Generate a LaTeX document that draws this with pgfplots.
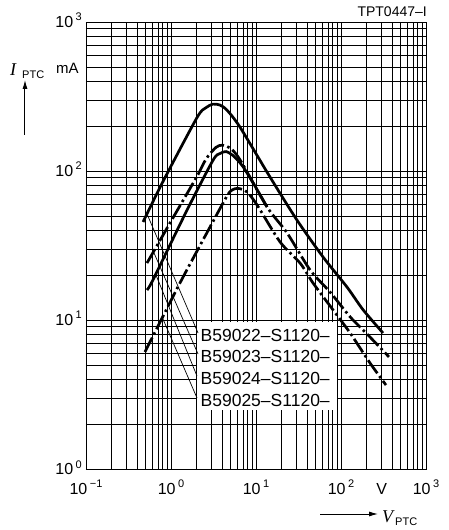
\documentclass[border=0pt]{standalone}
\usepackage{fontspec}
\setmainfont{Liberation Sans}
\newfontfamily\seriffont{Liberation Serif}
\usepackage{pgfplots}
\pgfplotsset{compat=1.18}
\usetikzlibrary{arrows.meta}
\newcommand{\tl}[1]{{\fontsize{16}{16}\selectfont 10\hspace{2.5pt}\raisebox{6.5pt}{\fontsize{11}{11}\selectfont #1}}}
\begin{document}
\begin{tikzpicture}
\useasboundingbox (-86pt,-61pt) rectangle (363pt,469pt);
\begin{axis}[
  at={(0pt,0pt)}, anchor=south west,
  scale only axis, width=340pt, height=447pt,
  xmode=log, ymode=log,
  xmin=0.1, xmax=1000, ymin=1, ymax=1000,
  clip=false,
  xtick={0.1,1,10,100,1000},
  xticklabels={\tl{−1},\tl{0},\tl{1},\tl{2},\tl{3}},
  ytick={1,10,100,1000},
  yticklabels={\tl{0},\tl{1},\tl{2},\tl{3}},
  minor xtick={0.2,0.3,0.4,0.5,0.6,0.7,0.8,0.9,2,3,4,5,6,7,8,9,20,30,40,50,60,70,80,90,200,300,400,500,600,700,800,900},
  minor ytick={2,3,4,5,6,7,8,9,20,30,40,50,60,70,80,90,200,300,400,500,600,700,800,900},
  grid=both,
  major grid style={black, line width=0.75pt},
  minor grid style={black, line width=0.65pt},
  axis line style={black, line width=0.8pt},
  tick style={draw=none},
  xticklabel style={anchor=base, inner sep=0pt, yshift=-25pt},
  yticklabel style={anchor=base east, inner sep=0pt, xshift=-4pt, yshift=-5.5pt},
]
% white box behind labels
\fill[white] (axis cs:2.02,2.49) rectangle (axis cs:89.7,9.70);

% curve 1 (solid)
\addplot[black, line width=2.7pt, smooth, tension=0.45] coordinates {
(0.469,45.5) (0.805,85) (2.02,228) (2.55,265) (3.12,281) (3.77,277) (4.56,256) (6.48,197) (14.6,91.2) (30.3,46.9) (61.4,26.5) (118,16.6) (182,11.7) (312,8.18)};

% curve 2 (dash-dot)
\addplot[black, line width=2.7pt, smooth, tension=0.45, dash pattern=on 16pt off 3.5pt on 2.5pt off 3.5pt] coordinates {
(0.522,24.1) (1.0,46) (2.02,92) (2.6,121) (3.38,144) (3.98,149) (4.94,143) (6.48,119) (13.5,57.3) (23.2,38.4) (43.2,21.7) (74.3,15.4) (128,10.5) (208,7.93) (367,5.65)};

% curve 3 (solid)
\addplot[black, line width=2.7pt, smooth, tension=0.45] coordinates {
(0.522,15.9) (0.614,18.6) (1.54,54.5) (3.12,118) (3.77,131) (4.44,135) (5.36,127) (7.03,107) (10.3,75) (13.5,57.3)};

% curve 4 (dash-dot)
\addplot[black, line width=2.7pt, smooth, tension=0.45, dash pattern=on 16pt off 3.5pt on 2.5pt off 3.5pt] coordinates {
(0.494,6.10) (1.28,17.8) (2.88,42.1) (4.56,68) (5.22,74.5) (6.14,76.5) (7.84,72.3) (10.3,59.1) (19.2,33.4) (33.0,24.1) (46.9,17.7) (80.5,11.7) (128,8.18) (219,5.15) (338,3.66)};

% leader lines
\draw[black, line width=0.7pt] (axis cs:0.522,51.5) -- (axis cs:2.08,8.18);
\draw[black, line width=0.7pt] (axis cs:0.631,28.2) -- (axis cs:2.08,5.91);
\draw[black, line width=0.7pt] (axis cs:0.667,20.0) -- (axis cs:2.02,4.21);
\draw[black, line width=0.7pt] (axis cs:0.784,10.5) -- (axis cs:2.02,3.00);

% labels
\node[anchor=west, inner sep=0pt, font=\fontsize{17.5}{17.5}\selectfont] at (axis cs:2.22,7.93) {B59022–S1120–};
\node[anchor=west, inner sep=0pt, font=\fontsize{17.5}{17.5}\selectfont] at (axis cs:2.22,5.65) {B59023–S1120–};
\node[anchor=west, inner sep=0pt, font=\fontsize{17.5}{17.5}\selectfont] at (axis cs:2.22,4.08) {B59024–S1120–};
\node[anchor=west, inner sep=0pt, font=\fontsize{17.5}{17.5}\selectfont] at (axis cs:2.22,2.90) {B59025–S1120–};

% V unit among tick labels
\node[anchor=base, inner sep=0pt, font=\fontsize{16}{16}\selectfont, yshift=-25pt] at (axis cs:302,1) {V};
\end{axis}

% y axis label
\node[anchor=base west, inner sep=0pt, font=\fontsize{18}{18}\selectfont\seriffont\itshape] at (-76pt,393pt) {I};
\node[anchor=base west, inner sep=0pt, font=\fontsize{11}{11}\selectfont] at (-64pt,390pt) {PTC};
\node[anchor=base west, inner sep=0pt, font=\fontsize{15}{15}\selectfont] at (-30pt,395pt) {mA};
\draw[line width=1pt, -{Latex[length=9pt,width=5pt]}] (-61pt,334pt) -- (-61pt,389pt);

% x axis label
\draw[line width=1pt, -{Latex[length=9pt,width=5pt]}] (234pt,-45pt) -- (292pt,-45pt);
\node[anchor=base west, inner sep=0pt, font=\fontsize{18}{18}\selectfont\seriffont\itshape] at (296pt,-53pt) {V};
\node[anchor=base west, inner sep=0pt, font=\fontsize{11}{11}\selectfont] at (309pt,-56pt) {PTC};

% figure code
\node[anchor=base east, inner sep=0pt, font=\fontsize{14}{14}\selectfont] at (341pt,452pt) {TPT0447–I};
\end{tikzpicture}
\end{document}
